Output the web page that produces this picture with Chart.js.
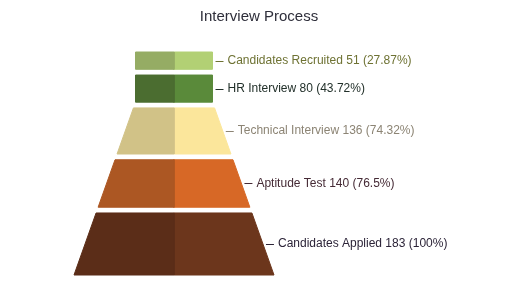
<!DOCTYPE html>
<html lang="en">
<head>
    <meta charset="UTF-8">
    <title>Interview Process</title>
    <style>
        body {
            margin: 0;
            background-color: #ffffff;
        }
        .chart-container {
            width: 518px;
            height: 285px;
        }
    </style>
    <script src="https://cdn.jsdelivr.net/npm/chart.js"></script>
</head>
<body>
    <div class="chart-container">
        <canvas id="funnelChart"></canvas>
    </div>

    <script>
        // stages from the wide bottom to the narrow top
        var stages = ['Candidates Applied', 'Aptitude Test', 'Technical Interview', 'HR Interview', 'Candidates Recruited'];
        var counts = [183, 140, 136, 80, 51];

        var darkColors = ['#5b2d18', '#ac5723', '#d1c287', '#4b6d30', '#95ac64'];
        var lightColors = ['#6c361c', '#d76826', '#fbe69b', '#5a8a3a', '#b2d074'];
        var labelColors = ['#2c2438', '#452a35', '#8c8474', '#22302a', '#6e7233'];

        // funnel shape
        var bottomHalf = 100;
        var neckHalf = 38.5;
        var gap = 17;
        var neckFrom = 3; // first section of the neck

        var bounds = [];
        var pos = 0;
        counts.forEach(function (c, i) {
            bounds.push([pos, pos + c]);
            pos += c + (i < counts.length - 1 ? gap : 0);
        });
        var totalHeight = pos;
        var neckStart = bounds[neckFrom][0];

        function halfWidthAt(y) {
            if (y >= neckStart) return neckHalf;
            return bottomHalf - (bottomHalf - neckHalf) * y / neckStart;
        }

        var datasets = [];
        bounds.forEach(function (b, i) {
            var h0 = halfWidthAt(b[0]);
            var h1 = b[0] >= neckStart ? neckHalf : halfWidthAt(b[1]);
            [-1, 1].forEach(function (side) {
                datasets.push({
                    data: [
                        { x: 0, y: b[0] },
                        { x: side * h0, y: b[0] },
                        { x: side * h1, y: b[1] },
                        { x: 0, y: b[1] },
                        { x: 0, y: b[0] }
                    ],
                    showLine: true,
                    fill: 'shape',
                    backgroundColor: side < 0 ? darkColors[i] : lightColors[i],
                    borderColor: side < 0 ? darkColors[i] : lightColors[i],
                    borderWidth: 1,
                    pointRadius: 0,
                    tension: 0,
                    clip: 5
                });
            });
        });

        var funnelLabels = {
            id: 'funnelLabels',
            afterDatasetsDraw: function (chart) {
                var ctx = chart.ctx;
                var xs = chart.scales.x;
                var ys = chart.scales.y;
                ctx.save();
                ctx.font = '12px "Liberation Sans", Arial, sans-serif';
                ctx.textBaseline = 'middle';
                bounds.forEach(function (b, i) {
                    var mid = (b[0] + b[1]) / 2;
                    var hw = b[0] >= neckStart ? neckHalf : halfWidthAt(mid);
                    var edge = xs.getPixelForValue(hw);
                    var py = ys.getPixelForValue(mid);
                    var pct = parseFloat((counts[i] / counts[0] * 100).toFixed(2));
                    ctx.strokeStyle = labelColors[i];
                    ctx.lineWidth = 1;
                    ctx.beginPath();
                    ctx.moveTo(edge + 3, Math.round(py) + 0.5);
                    ctx.lineTo(edge + 11, Math.round(py) + 0.5);
                    ctx.stroke();
                    ctx.fillStyle = labelColors[i];
                    ctx.fillText(stages[i] + ' ' + counts[i] + ' (' + pct + '%)', edge + 15, py);
                });
                ctx.restore();
            }
        };

        new Chart(document.getElementById('funnelChart').getContext('2d'), {
            type: 'scatter',
            data: { datasets: datasets },
            options: {
                responsive: true,
                maintainAspectRatio: false,
                animation: false,
                layout: { padding: { top: 0, bottom: 10, left: 0, right: 0 } },
                scales: {
                    x: { display: false, min: -174, max: 344 },
                    y: { display: false, min: 0, max: totalHeight }
                },
                plugins: {
                    legend: { display: false },
                    tooltip: { enabled: false },
                    title: {
                        display: true,
                        text: 'Interview Process',
                        color: '#2e2e3a',
                        font: { family: '"Liberation Sans", Arial, sans-serif', size: 15, weight: 'normal' },
                        padding: { top: 8, bottom: 26 }
                    }
                }
            },
            plugins: [funnelLabels]
        });
    </script>
</body>
</html>
